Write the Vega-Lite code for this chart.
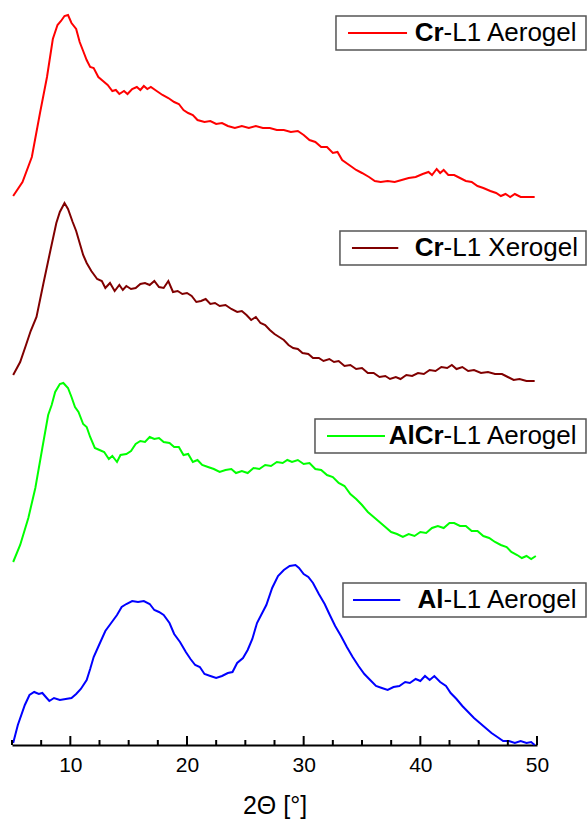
{
  "$schema": "https://vega.github.io/schema/vega-lite/v6.json",
  "width": 525,
  "height": 735,
  "autosize": {"type": "none"},
  "padding": {"left": 12, "top": 10, "right": 50, "bottom": 78},
  "background": "white",
  "config": {
    "view": {"stroke": null},
    "font": "Liberation Sans"
  },
  "datasets": {
    "majorTicks": [{"t": 10}, {"t": 20}, {"t": 30}, {"t": 40}, {"t": 50}],
    "minorTicks": [{"t": 5}, {"t": 7.5}, {"t": 12.5}, {"t": 15}, {"t": 17.5}, {"t": 22.5}, {"t": 25}, {"t": 27.5}, {"t": 32.5}, {"t": 35}, {"t": 37.5}, {"t": 42.5}, {"t": 45}, {"t": 47.5}],
    "curves": [
      {"s": "Cr-L1 Aerogel", "x": 5.1, "y": 549}, {"s": "Cr-L1 Aerogel", "x": 5.9, "y": 563}, {"s": "Cr-L1 Aerogel", "x": 6.7, "y": 588}, {"s": "Cr-L1 Aerogel", "x": 7.4, "y": 632}, {"s": "Cr-L1 Aerogel", "x": 8.0, "y": 668}, {"s": "Cr-L1 Aerogel", "x": 8.5, "y": 706}, {"s": "Cr-L1 Aerogel", "x": 8.9, "y": 720}, {"s": "Cr-L1 Aerogel", "x": 9.2, "y": 724}, {"s": "Cr-L1 Aerogel", "x": 9.5, "y": 729}, {"s": "Cr-L1 Aerogel", "x": 9.8, "y": 730}, {"s": "Cr-L1 Aerogel", "x": 10.1, "y": 722}, {"s": "Cr-L1 Aerogel", "x": 10.5, "y": 716}, {"s": "Cr-L1 Aerogel", "x": 10.8, "y": 703}, {"s": "Cr-L1 Aerogel", "x": 11.1, "y": 694}, {"s": "Cr-L1 Aerogel", "x": 11.4, "y": 685}, {"s": "Cr-L1 Aerogel", "x": 11.7, "y": 678}, {"s": "Cr-L1 Aerogel", "x": 12.0, "y": 677}, {"s": "Cr-L1 Aerogel", "x": 12.4, "y": 668}, {"s": "Cr-L1 Aerogel", "x": 12.8, "y": 664}, {"s": "Cr-L1 Aerogel", "x": 13.2, "y": 660}, {"s": "Cr-L1 Aerogel", "x": 13.6, "y": 654}, {"s": "Cr-L1 Aerogel", "x": 13.9, "y": 655}, {"s": "Cr-L1 Aerogel", "x": 14.2, "y": 651}, {"s": "Cr-L1 Aerogel", "x": 14.6, "y": 654}, {"s": "Cr-L1 Aerogel", "x": 14.9, "y": 651}, {"s": "Cr-L1 Aerogel", "x": 15.3, "y": 656}, {"s": "Cr-L1 Aerogel", "x": 15.7, "y": 658}, {"s": "Cr-L1 Aerogel", "x": 16.0, "y": 655}, {"s": "Cr-L1 Aerogel", "x": 16.3, "y": 659}, {"s": "Cr-L1 Aerogel", "x": 16.6, "y": 656}, {"s": "Cr-L1 Aerogel", "x": 16.9, "y": 658}, {"s": "Cr-L1 Aerogel", "x": 17.4, "y": 654}, {"s": "Cr-L1 Aerogel", "x": 17.9, "y": 650}, {"s": "Cr-L1 Aerogel", "x": 18.4, "y": 647}, {"s": "Cr-L1 Aerogel", "x": 18.9, "y": 643}, {"s": "Cr-L1 Aerogel", "x": 19.3, "y": 641}, {"s": "Cr-L1 Aerogel", "x": 19.7, "y": 635}, {"s": "Cr-L1 Aerogel", "x": 20.1, "y": 632}, {"s": "Cr-L1 Aerogel", "x": 20.5, "y": 630}, {"s": "Cr-L1 Aerogel", "x": 20.9, "y": 625}, {"s": "Cr-L1 Aerogel", "x": 21.5, "y": 623}, {"s": "Cr-L1 Aerogel", "x": 22.0, "y": 624}, {"s": "Cr-L1 Aerogel", "x": 22.5, "y": 621}, {"s": "Cr-L1 Aerogel", "x": 23.0, "y": 622}, {"s": "Cr-L1 Aerogel", "x": 23.5, "y": 619}, {"s": "Cr-L1 Aerogel", "x": 24.1, "y": 617}, {"s": "Cr-L1 Aerogel", "x": 24.7, "y": 619}, {"s": "Cr-L1 Aerogel", "x": 25.3, "y": 617}, {"s": "Cr-L1 Aerogel", "x": 25.9, "y": 619}, {"s": "Cr-L1 Aerogel", "x": 26.5, "y": 617}, {"s": "Cr-L1 Aerogel", "x": 27.1, "y": 617}, {"s": "Cr-L1 Aerogel", "x": 27.7, "y": 615}, {"s": "Cr-L1 Aerogel", "x": 28.3, "y": 615}, {"s": "Cr-L1 Aerogel", "x": 28.9, "y": 613}, {"s": "Cr-L1 Aerogel", "x": 29.5, "y": 614}, {"s": "Cr-L1 Aerogel", "x": 30.0, "y": 610}, {"s": "Cr-L1 Aerogel", "x": 30.5, "y": 605}, {"s": "Cr-L1 Aerogel", "x": 31.0, "y": 603}, {"s": "Cr-L1 Aerogel", "x": 31.5, "y": 598}, {"s": "Cr-L1 Aerogel", "x": 32.0, "y": 598}, {"s": "Cr-L1 Aerogel", "x": 32.5, "y": 592}, {"s": "Cr-L1 Aerogel", "x": 32.9, "y": 593}, {"s": "Cr-L1 Aerogel", "x": 33.3, "y": 585}, {"s": "Cr-L1 Aerogel", "x": 33.9, "y": 580}, {"s": "Cr-L1 Aerogel", "x": 34.5, "y": 575}, {"s": "Cr-L1 Aerogel", "x": 35.0, "y": 572}, {"s": "Cr-L1 Aerogel", "x": 35.6, "y": 568}, {"s": "Cr-L1 Aerogel", "x": 36.1, "y": 564}, {"s": "Cr-L1 Aerogel", "x": 36.6, "y": 563}, {"s": "Cr-L1 Aerogel", "x": 37.2, "y": 564}, {"s": "Cr-L1 Aerogel", "x": 37.8, "y": 563}, {"s": "Cr-L1 Aerogel", "x": 38.4, "y": 565}, {"s": "Cr-L1 Aerogel", "x": 39.0, "y": 567}, {"s": "Cr-L1 Aerogel", "x": 39.6, "y": 568}, {"s": "Cr-L1 Aerogel", "x": 40.2, "y": 571}, {"s": "Cr-L1 Aerogel", "x": 40.7, "y": 573}, {"s": "Cr-L1 Aerogel", "x": 41.0, "y": 570}, {"s": "Cr-L1 Aerogel", "x": 41.4, "y": 576}, {"s": "Cr-L1 Aerogel", "x": 41.7, "y": 572}, {"s": "Cr-L1 Aerogel", "x": 42.0, "y": 575}, {"s": "Cr-L1 Aerogel", "x": 42.4, "y": 570}, {"s": "Cr-L1 Aerogel", "x": 42.9, "y": 570}, {"s": "Cr-L1 Aerogel", "x": 43.4, "y": 567}, {"s": "Cr-L1 Aerogel", "x": 43.9, "y": 564}, {"s": "Cr-L1 Aerogel", "x": 44.4, "y": 563}, {"s": "Cr-L1 Aerogel", "x": 44.9, "y": 559}, {"s": "Cr-L1 Aerogel", "x": 45.4, "y": 557}, {"s": "Cr-L1 Aerogel", "x": 46.0, "y": 554}, {"s": "Cr-L1 Aerogel", "x": 46.5, "y": 552}, {"s": "Cr-L1 Aerogel", "x": 46.9, "y": 549}, {"s": "Cr-L1 Aerogel", "x": 47.3, "y": 551}, {"s": "Cr-L1 Aerogel", "x": 47.7, "y": 548}, {"s": "Cr-L1 Aerogel", "x": 48.1, "y": 551}, {"s": "Cr-L1 Aerogel", "x": 48.6, "y": 548}, {"s": "Cr-L1 Aerogel", "x": 49.2, "y": 548}, {"s": "Cr-L1 Aerogel", "x": 49.8, "y": 548},

      {"s": "Cr-L1 Xerogel", "x": 5.1, "y": 370}, {"s": "Cr-L1 Xerogel", "x": 5.7, "y": 383}, {"s": "Cr-L1 Xerogel", "x": 6.2, "y": 400}, {"s": "Cr-L1 Xerogel", "x": 6.6, "y": 414}, {"s": "Cr-L1 Xerogel", "x": 7.1, "y": 428}, {"s": "Cr-L1 Xerogel", "x": 7.7, "y": 462}, {"s": "Cr-L1 Xerogel", "x": 8.3, "y": 495}, {"s": "Cr-L1 Xerogel", "x": 8.8, "y": 522}, {"s": "Cr-L1 Xerogel", "x": 9.1, "y": 533}, {"s": "Cr-L1 Xerogel", "x": 9.5, "y": 542}, {"s": "Cr-L1 Xerogel", "x": 9.8, "y": 536}, {"s": "Cr-L1 Xerogel", "x": 10.2, "y": 523}, {"s": "Cr-L1 Xerogel", "x": 10.5, "y": 514}, {"s": "Cr-L1 Xerogel", "x": 10.8, "y": 502}, {"s": "Cr-L1 Xerogel", "x": 11.1, "y": 490}, {"s": "Cr-L1 Xerogel", "x": 11.4, "y": 482}, {"s": "Cr-L1 Xerogel", "x": 11.8, "y": 474}, {"s": "Cr-L1 Xerogel", "x": 12.3, "y": 466}, {"s": "Cr-L1 Xerogel", "x": 12.7, "y": 464}, {"s": "Cr-L1 Xerogel", "x": 13.0, "y": 457}, {"s": "Cr-L1 Xerogel", "x": 13.4, "y": 462}, {"s": "Cr-L1 Xerogel", "x": 13.8, "y": 454}, {"s": "Cr-L1 Xerogel", "x": 14.2, "y": 460}, {"s": "Cr-L1 Xerogel", "x": 14.5, "y": 455}, {"s": "Cr-L1 Xerogel", "x": 14.8, "y": 459}, {"s": "Cr-L1 Xerogel", "x": 15.2, "y": 456}, {"s": "Cr-L1 Xerogel", "x": 15.6, "y": 457}, {"s": "Cr-L1 Xerogel", "x": 16.0, "y": 461}, {"s": "Cr-L1 Xerogel", "x": 16.4, "y": 462}, {"s": "Cr-L1 Xerogel", "x": 16.8, "y": 460}, {"s": "Cr-L1 Xerogel", "x": 17.2, "y": 464}, {"s": "Cr-L1 Xerogel", "x": 17.6, "y": 458}, {"s": "Cr-L1 Xerogel", "x": 18.0, "y": 457}, {"s": "Cr-L1 Xerogel", "x": 18.4, "y": 464}, {"s": "Cr-L1 Xerogel", "x": 18.8, "y": 453}, {"s": "Cr-L1 Xerogel", "x": 19.2, "y": 454}, {"s": "Cr-L1 Xerogel", "x": 19.6, "y": 451}, {"s": "Cr-L1 Xerogel", "x": 20.0, "y": 452}, {"s": "Cr-L1 Xerogel", "x": 20.4, "y": 449}, {"s": "Cr-L1 Xerogel", "x": 20.8, "y": 443}, {"s": "Cr-L1 Xerogel", "x": 21.2, "y": 444}, {"s": "Cr-L1 Xerogel", "x": 21.6, "y": 446}, {"s": "Cr-L1 Xerogel", "x": 22.0, "y": 441}, {"s": "Cr-L1 Xerogel", "x": 22.4, "y": 442}, {"s": "Cr-L1 Xerogel", "x": 22.8, "y": 439}, {"s": "Cr-L1 Xerogel", "x": 23.3, "y": 440}, {"s": "Cr-L1 Xerogel", "x": 23.8, "y": 436}, {"s": "Cr-L1 Xerogel", "x": 24.3, "y": 433}, {"s": "Cr-L1 Xerogel", "x": 24.7, "y": 434}, {"s": "Cr-L1 Xerogel", "x": 25.1, "y": 430}, {"s": "Cr-L1 Xerogel", "x": 25.5, "y": 425}, {"s": "Cr-L1 Xerogel", "x": 25.9, "y": 428}, {"s": "Cr-L1 Xerogel", "x": 26.3, "y": 422}, {"s": "Cr-L1 Xerogel", "x": 26.7, "y": 420}, {"s": "Cr-L1 Xerogel", "x": 27.1, "y": 415}, {"s": "Cr-L1 Xerogel", "x": 27.5, "y": 411}, {"s": "Cr-L1 Xerogel", "x": 27.9, "y": 408}, {"s": "Cr-L1 Xerogel", "x": 28.3, "y": 405}, {"s": "Cr-L1 Xerogel", "x": 28.7, "y": 400}, {"s": "Cr-L1 Xerogel", "x": 29.1, "y": 397}, {"s": "Cr-L1 Xerogel", "x": 29.5, "y": 396}, {"s": "Cr-L1 Xerogel", "x": 29.9, "y": 392}, {"s": "Cr-L1 Xerogel", "x": 30.4, "y": 391}, {"s": "Cr-L1 Xerogel", "x": 30.8, "y": 387}, {"s": "Cr-L1 Xerogel", "x": 31.3, "y": 387}, {"s": "Cr-L1 Xerogel", "x": 31.7, "y": 384}, {"s": "Cr-L1 Xerogel", "x": 32.2, "y": 386}, {"s": "Cr-L1 Xerogel", "x": 32.6, "y": 383}, {"s": "Cr-L1 Xerogel", "x": 33.0, "y": 384}, {"s": "Cr-L1 Xerogel", "x": 33.5, "y": 379}, {"s": "Cr-L1 Xerogel", "x": 34.0, "y": 380}, {"s": "Cr-L1 Xerogel", "x": 34.5, "y": 376}, {"s": "Cr-L1 Xerogel", "x": 35.0, "y": 377}, {"s": "Cr-L1 Xerogel", "x": 35.5, "y": 372}, {"s": "Cr-L1 Xerogel", "x": 36.0, "y": 372}, {"s": "Cr-L1 Xerogel", "x": 36.5, "y": 368}, {"s": "Cr-L1 Xerogel", "x": 37.0, "y": 369}, {"s": "Cr-L1 Xerogel", "x": 37.4, "y": 366}, {"s": "Cr-L1 Xerogel", "x": 37.9, "y": 368}, {"s": "Cr-L1 Xerogel", "x": 38.3, "y": 366}, {"s": "Cr-L1 Xerogel", "x": 38.8, "y": 370}, {"s": "Cr-L1 Xerogel", "x": 39.3, "y": 369}, {"s": "Cr-L1 Xerogel", "x": 39.8, "y": 372}, {"s": "Cr-L1 Xerogel", "x": 40.3, "y": 371}, {"s": "Cr-L1 Xerogel", "x": 40.8, "y": 375}, {"s": "Cr-L1 Xerogel", "x": 41.3, "y": 374}, {"s": "Cr-L1 Xerogel", "x": 41.8, "y": 378}, {"s": "Cr-L1 Xerogel", "x": 42.3, "y": 377}, {"s": "Cr-L1 Xerogel", "x": 42.7, "y": 380}, {"s": "Cr-L1 Xerogel", "x": 43.1, "y": 376}, {"s": "Cr-L1 Xerogel", "x": 43.6, "y": 378}, {"s": "Cr-L1 Xerogel", "x": 44.1, "y": 374}, {"s": "Cr-L1 Xerogel", "x": 44.6, "y": 375}, {"s": "Cr-L1 Xerogel", "x": 45.2, "y": 372}, {"s": "Cr-L1 Xerogel", "x": 45.8, "y": 373}, {"s": "Cr-L1 Xerogel", "x": 46.4, "y": 371}, {"s": "Cr-L1 Xerogel", "x": 47.0, "y": 371}, {"s": "Cr-L1 Xerogel", "x": 47.5, "y": 368}, {"s": "Cr-L1 Xerogel", "x": 48.0, "y": 365}, {"s": "Cr-L1 Xerogel", "x": 48.5, "y": 366}, {"s": "Cr-L1 Xerogel", "x": 49.1, "y": 364}, {"s": "Cr-L1 Xerogel", "x": 49.8, "y": 364},

      {"s": "AlCr-L1 Aerogel", "x": 5.1, "y": 183}, {"s": "AlCr-L1 Aerogel", "x": 5.7, "y": 200}, {"s": "AlCr-L1 Aerogel", "x": 6.4, "y": 227}, {"s": "AlCr-L1 Aerogel", "x": 7.0, "y": 257}, {"s": "AlCr-L1 Aerogel", "x": 7.6, "y": 297}, {"s": "AlCr-L1 Aerogel", "x": 8.1, "y": 330}, {"s": "AlCr-L1 Aerogel", "x": 8.4, "y": 340}, {"s": "AlCr-L1 Aerogel", "x": 8.7, "y": 353}, {"s": "AlCr-L1 Aerogel", "x": 9.1, "y": 361}, {"s": "AlCr-L1 Aerogel", "x": 9.4, "y": 362}, {"s": "AlCr-L1 Aerogel", "x": 9.8, "y": 357}, {"s": "AlCr-L1 Aerogel", "x": 10.1, "y": 348}, {"s": "AlCr-L1 Aerogel", "x": 10.4, "y": 338}, {"s": "AlCr-L1 Aerogel", "x": 10.7, "y": 333}, {"s": "AlCr-L1 Aerogel", "x": 11.1, "y": 321}, {"s": "AlCr-L1 Aerogel", "x": 11.4, "y": 318}, {"s": "AlCr-L1 Aerogel", "x": 11.7, "y": 308}, {"s": "AlCr-L1 Aerogel", "x": 12.1, "y": 297}, {"s": "AlCr-L1 Aerogel", "x": 12.5, "y": 295}, {"s": "AlCr-L1 Aerogel", "x": 12.9, "y": 293}, {"s": "AlCr-L1 Aerogel", "x": 13.3, "y": 286}, {"s": "AlCr-L1 Aerogel", "x": 13.6, "y": 289}, {"s": "AlCr-L1 Aerogel", "x": 14.0, "y": 283}, {"s": "AlCr-L1 Aerogel", "x": 14.3, "y": 290}, {"s": "AlCr-L1 Aerogel", "x": 14.8, "y": 291}, {"s": "AlCr-L1 Aerogel", "x": 15.2, "y": 294}, {"s": "AlCr-L1 Aerogel", "x": 15.6, "y": 301}, {"s": "AlCr-L1 Aerogel", "x": 16.0, "y": 304}, {"s": "AlCr-L1 Aerogel", "x": 16.4, "y": 303}, {"s": "AlCr-L1 Aerogel", "x": 16.8, "y": 308}, {"s": "AlCr-L1 Aerogel", "x": 17.2, "y": 306}, {"s": "AlCr-L1 Aerogel", "x": 17.6, "y": 307}, {"s": "AlCr-L1 Aerogel", "x": 18.0, "y": 303}, {"s": "AlCr-L1 Aerogel", "x": 18.5, "y": 302}, {"s": "AlCr-L1 Aerogel", "x": 18.9, "y": 298}, {"s": "AlCr-L1 Aerogel", "x": 19.3, "y": 298}, {"s": "AlCr-L1 Aerogel", "x": 19.7, "y": 290}, {"s": "AlCr-L1 Aerogel", "x": 20.1, "y": 291}, {"s": "AlCr-L1 Aerogel", "x": 20.5, "y": 283}, {"s": "AlCr-L1 Aerogel", "x": 20.9, "y": 285}, {"s": "AlCr-L1 Aerogel", "x": 21.3, "y": 280}, {"s": "AlCr-L1 Aerogel", "x": 21.8, "y": 278}, {"s": "AlCr-L1 Aerogel", "x": 22.3, "y": 276}, {"s": "AlCr-L1 Aerogel", "x": 22.8, "y": 273}, {"s": "AlCr-L1 Aerogel", "x": 23.3, "y": 275}, {"s": "AlCr-L1 Aerogel", "x": 23.8, "y": 276}, {"s": "AlCr-L1 Aerogel", "x": 24.2, "y": 272}, {"s": "AlCr-L1 Aerogel", "x": 24.7, "y": 274}, {"s": "AlCr-L1 Aerogel", "x": 25.2, "y": 272}, {"s": "AlCr-L1 Aerogel", "x": 25.7, "y": 277}, {"s": "AlCr-L1 Aerogel", "x": 26.2, "y": 276}, {"s": "AlCr-L1 Aerogel", "x": 26.7, "y": 280}, {"s": "AlCr-L1 Aerogel", "x": 27.2, "y": 279}, {"s": "AlCr-L1 Aerogel", "x": 27.7, "y": 283}, {"s": "AlCr-L1 Aerogel", "x": 28.2, "y": 282}, {"s": "AlCr-L1 Aerogel", "x": 28.6, "y": 285}, {"s": "AlCr-L1 Aerogel", "x": 29.0, "y": 283}, {"s": "AlCr-L1 Aerogel", "x": 29.5, "y": 285}, {"s": "AlCr-L1 Aerogel", "x": 30.0, "y": 281}, {"s": "AlCr-L1 Aerogel", "x": 30.5, "y": 282}, {"s": "AlCr-L1 Aerogel", "x": 31.0, "y": 276}, {"s": "AlCr-L1 Aerogel", "x": 31.5, "y": 275}, {"s": "AlCr-L1 Aerogel", "x": 32.0, "y": 270}, {"s": "AlCr-L1 Aerogel", "x": 32.5, "y": 268}, {"s": "AlCr-L1 Aerogel", "x": 33.0, "y": 262}, {"s": "AlCr-L1 Aerogel", "x": 33.5, "y": 259}, {"s": "AlCr-L1 Aerogel", "x": 34.0, "y": 251}, {"s": "AlCr-L1 Aerogel", "x": 34.5, "y": 246}, {"s": "AlCr-L1 Aerogel", "x": 35.0, "y": 240}, {"s": "AlCr-L1 Aerogel", "x": 35.5, "y": 233}, {"s": "AlCr-L1 Aerogel", "x": 36.0, "y": 228}, {"s": "AlCr-L1 Aerogel", "x": 36.5, "y": 223}, {"s": "AlCr-L1 Aerogel", "x": 37.0, "y": 218}, {"s": "AlCr-L1 Aerogel", "x": 37.5, "y": 213}, {"s": "AlCr-L1 Aerogel", "x": 38.0, "y": 211}, {"s": "AlCr-L1 Aerogel", "x": 38.5, "y": 208}, {"s": "AlCr-L1 Aerogel", "x": 39.0, "y": 211}, {"s": "AlCr-L1 Aerogel", "x": 39.5, "y": 209}, {"s": "AlCr-L1 Aerogel", "x": 40.0, "y": 213}, {"s": "AlCr-L1 Aerogel", "x": 40.5, "y": 212}, {"s": "AlCr-L1 Aerogel", "x": 41.0, "y": 217}, {"s": "AlCr-L1 Aerogel", "x": 41.5, "y": 219}, {"s": "AlCr-L1 Aerogel", "x": 42.0, "y": 217}, {"s": "AlCr-L1 Aerogel", "x": 42.5, "y": 222}, {"s": "AlCr-L1 Aerogel", "x": 42.9, "y": 222}, {"s": "AlCr-L1 Aerogel", "x": 43.4, "y": 219}, {"s": "AlCr-L1 Aerogel", "x": 43.9, "y": 219}, {"s": "AlCr-L1 Aerogel", "x": 44.4, "y": 214}, {"s": "AlCr-L1 Aerogel", "x": 44.9, "y": 214}, {"s": "AlCr-L1 Aerogel", "x": 45.4, "y": 209}, {"s": "AlCr-L1 Aerogel", "x": 45.9, "y": 207}, {"s": "AlCr-L1 Aerogel", "x": 46.4, "y": 203}, {"s": "AlCr-L1 Aerogel", "x": 46.9, "y": 200}, {"s": "AlCr-L1 Aerogel", "x": 47.4, "y": 198}, {"s": "AlCr-L1 Aerogel", "x": 47.8, "y": 193}, {"s": "AlCr-L1 Aerogel", "x": 48.3, "y": 190}, {"s": "AlCr-L1 Aerogel", "x": 48.7, "y": 187}, {"s": "AlCr-L1 Aerogel", "x": 49.1, "y": 189}, {"s": "AlCr-L1 Aerogel", "x": 49.5, "y": 186}, {"s": "AlCr-L1 Aerogel", "x": 49.9, "y": 189},

      {"s": "Al-L1 Aerogel", "x": 5.1, "y": 2}, {"s": "Al-L1 Aerogel", "x": 5.5, "y": 20}, {"s": "Al-L1 Aerogel", "x": 6.1, "y": 40}, {"s": "Al-L1 Aerogel", "x": 6.5, "y": 50}, {"s": "Al-L1 Aerogel", "x": 6.9, "y": 53}, {"s": "Al-L1 Aerogel", "x": 7.3, "y": 51}, {"s": "Al-L1 Aerogel", "x": 7.6, "y": 52}, {"s": "Al-L1 Aerogel", "x": 7.9, "y": 48}, {"s": "Al-L1 Aerogel", "x": 8.2, "y": 44}, {"s": "Al-L1 Aerogel", "x": 8.6, "y": 47}, {"s": "Al-L1 Aerogel", "x": 9.1, "y": 45}, {"s": "Al-L1 Aerogel", "x": 9.6, "y": 46}, {"s": "Al-L1 Aerogel", "x": 10.1, "y": 47}, {"s": "Al-L1 Aerogel", "x": 10.5, "y": 51}, {"s": "Al-L1 Aerogel", "x": 10.9, "y": 56}, {"s": "Al-L1 Aerogel", "x": 11.4, "y": 65}, {"s": "Al-L1 Aerogel", "x": 11.7, "y": 76}, {"s": "Al-L1 Aerogel", "x": 12.0, "y": 88}, {"s": "Al-L1 Aerogel", "x": 12.5, "y": 101}, {"s": "Al-L1 Aerogel", "x": 13.0, "y": 114}, {"s": "Al-L1 Aerogel", "x": 13.5, "y": 122}, {"s": "Al-L1 Aerogel", "x": 14.0, "y": 130}, {"s": "Al-L1 Aerogel", "x": 14.4, "y": 138}, {"s": "Al-L1 Aerogel", "x": 14.8, "y": 141}, {"s": "Al-L1 Aerogel", "x": 15.3, "y": 144}, {"s": "Al-L1 Aerogel", "x": 15.8, "y": 143}, {"s": "Al-L1 Aerogel", "x": 16.3, "y": 144}, {"s": "Al-L1 Aerogel", "x": 16.8, "y": 141}, {"s": "Al-L1 Aerogel", "x": 17.2, "y": 135}, {"s": "Al-L1 Aerogel", "x": 17.6, "y": 133}, {"s": "Al-L1 Aerogel", "x": 18.0, "y": 130}, {"s": "Al-L1 Aerogel", "x": 18.5, "y": 122}, {"s": "Al-L1 Aerogel", "x": 18.9, "y": 111}, {"s": "Al-L1 Aerogel", "x": 19.4, "y": 103}, {"s": "Al-L1 Aerogel", "x": 19.9, "y": 93}, {"s": "Al-L1 Aerogel", "x": 20.3, "y": 86}, {"s": "Al-L1 Aerogel", "x": 20.7, "y": 80}, {"s": "Al-L1 Aerogel", "x": 21.1, "y": 78}, {"s": "Al-L1 Aerogel", "x": 21.5, "y": 71}, {"s": "Al-L1 Aerogel", "x": 22.0, "y": 69}, {"s": "Al-L1 Aerogel", "x": 22.5, "y": 67}, {"s": "Al-L1 Aerogel", "x": 23.0, "y": 69}, {"s": "Al-L1 Aerogel", "x": 23.5, "y": 72}, {"s": "Al-L1 Aerogel", "x": 23.9, "y": 73}, {"s": "Al-L1 Aerogel", "x": 24.3, "y": 82}, {"s": "Al-L1 Aerogel", "x": 24.8, "y": 87}, {"s": "Al-L1 Aerogel", "x": 25.2, "y": 95}, {"s": "Al-L1 Aerogel", "x": 25.6, "y": 106}, {"s": "Al-L1 Aerogel", "x": 26.0, "y": 122}, {"s": "Al-L1 Aerogel", "x": 26.4, "y": 131}, {"s": "Al-L1 Aerogel", "x": 26.8, "y": 140}, {"s": "Al-L1 Aerogel", "x": 27.3, "y": 157}, {"s": "Al-L1 Aerogel", "x": 27.8, "y": 169}, {"s": "Al-L1 Aerogel", "x": 28.3, "y": 175}, {"s": "Al-L1 Aerogel", "x": 28.8, "y": 179}, {"s": "Al-L1 Aerogel", "x": 29.3, "y": 180}, {"s": "Al-L1 Aerogel", "x": 29.6, "y": 177}, {"s": "Al-L1 Aerogel", "x": 30.0, "y": 171}, {"s": "Al-L1 Aerogel", "x": 30.4, "y": 168}, {"s": "Al-L1 Aerogel", "x": 30.8, "y": 162}, {"s": "Al-L1 Aerogel", "x": 31.3, "y": 151}, {"s": "Al-L1 Aerogel", "x": 31.8, "y": 141}, {"s": "Al-L1 Aerogel", "x": 32.2, "y": 131}, {"s": "Al-L1 Aerogel", "x": 32.7, "y": 119}, {"s": "Al-L1 Aerogel", "x": 33.2, "y": 109}, {"s": "Al-L1 Aerogel", "x": 33.7, "y": 98}, {"s": "Al-L1 Aerogel", "x": 34.2, "y": 88}, {"s": "Al-L1 Aerogel", "x": 34.7, "y": 79}, {"s": "Al-L1 Aerogel", "x": 35.2, "y": 71}, {"s": "Al-L1 Aerogel", "x": 35.7, "y": 65}, {"s": "Al-L1 Aerogel", "x": 36.2, "y": 59}, {"s": "Al-L1 Aerogel", "x": 36.7, "y": 57}, {"s": "Al-L1 Aerogel", "x": 37.2, "y": 55}, {"s": "Al-L1 Aerogel", "x": 37.7, "y": 58}, {"s": "Al-L1 Aerogel", "x": 38.2, "y": 59}, {"s": "Al-L1 Aerogel", "x": 38.7, "y": 63}, {"s": "Al-L1 Aerogel", "x": 39.1, "y": 62}, {"s": "Al-L1 Aerogel", "x": 39.6, "y": 66}, {"s": "Al-L1 Aerogel", "x": 40.0, "y": 64}, {"s": "Al-L1 Aerogel", "x": 40.4, "y": 69}, {"s": "Al-L1 Aerogel", "x": 40.8, "y": 65}, {"s": "Al-L1 Aerogel", "x": 41.2, "y": 69}, {"s": "Al-L1 Aerogel", "x": 41.7, "y": 63}, {"s": "Al-L1 Aerogel", "x": 42.2, "y": 59}, {"s": "Al-L1 Aerogel", "x": 42.6, "y": 52}, {"s": "Al-L1 Aerogel", "x": 43.1, "y": 46}, {"s": "Al-L1 Aerogel", "x": 43.6, "y": 39}, {"s": "Al-L1 Aerogel", "x": 44.1, "y": 33}, {"s": "Al-L1 Aerogel", "x": 44.6, "y": 27}, {"s": "Al-L1 Aerogel", "x": 45.1, "y": 22}, {"s": "Al-L1 Aerogel", "x": 45.6, "y": 17}, {"s": "Al-L1 Aerogel", "x": 46.1, "y": 12}, {"s": "Al-L1 Aerogel", "x": 46.6, "y": 8}, {"s": "Al-L1 Aerogel", "x": 47.1, "y": 4}, {"s": "Al-L1 Aerogel", "x": 47.6, "y": 4}, {"s": "Al-L1 Aerogel", "x": 48.1, "y": 2}, {"s": "Al-L1 Aerogel", "x": 48.6, "y": 4}, {"s": "Al-L1 Aerogel", "x": 49.1, "y": 2}, {"s": "Al-L1 Aerogel", "x": 49.5, "y": 3}, {"s": "Al-L1 Aerogel", "x": 49.8, "y": 0}
    ],
    "legend": [
      {"s": "Cr-L1 Aerogel", "bold": "Cr", "rest": "-L1 Aerogel", "bx1": 32.77, "bx2": 54.2, "by1": 729, "by2": 695, "lx1": 33.8, "lx2": 38.86, "ly": 712, "rx": 41.99},
      {"s": "Cr-L1 Xerogel", "bold": "Cr", "rest": "-L1 Xerogel", "bx1": 33.11, "bx2": 54.2, "by1": 514, "by2": 480, "lx1": 34.14, "lx2": 38.11, "ly": 497, "rx": 41.99},
      {"s": "AlCr-L1 Aerogel", "bold": "AlCr", "rest": "-L1 Aerogel", "bx1": 30.97, "bx2": 54.2, "by1": 326, "by2": 292, "lx1": 32.0, "lx2": 36.97, "ly": 309, "rx": 41.99},
      {"s": "Al-L1 Aerogel", "bold": "Al", "rest": "-L1 Aerogel", "bx1": 33.37, "bx2": 54.2, "by1": 162, "by2": 128, "lx1": 34.23, "lx2": 38.28, "ly": 145, "rx": 41.99}
    ]
  },
  "layer": [
    {
      "data": {"name": "curves"},
      "mark": {"type": "line", "strokeWidth": 2, "clip": false},
      "encoding": {
        "x": {
          "field": "x", "type": "quantitative",
          "scale": {"domain": [5, 50], "nice": false, "zero": false},
          "axis": {
            "orient": "bottom",
            "title": "2\u0398 [\u00b0]",
            "values": [10, 20, 30, 40, 50],
            "labelOverlap": false,
            "labelFlush": false,
            "grid": false,
            "ticks": false,
            "domainColor": "black",
            "domainWidth": 2,
            "labelPadding": 9,
            "labelFont": "Liberation Sans",
            "labelFontSize": 21,
            "labelColor": "black",
            "titleFont": "Liberation Sans",
            "titleFontSize": 25,
            "titleFontWeight": "normal",
            "titleColor": "black",
            "titlePadding": 18
          }
        },
        "y": {
          "field": "y", "type": "quantitative",
          "scale": {"domain": [0, 735], "nice": false, "zero": false},
          "axis": null
        },
        "color": {
          "field": "s", "type": "nominal",
          "scale": {
            "domain": ["Cr-L1 Aerogel", "Cr-L1 Xerogel", "AlCr-L1 Aerogel", "Al-L1 Aerogel"],
            "range": ["#ff0000", "#800000", "#00ff00", "#0000ff"]
          },
          "legend": null
        }
      }
    },
    {
      "data": {"name": "majorTicks"},
      "mark": {"type": "rule", "strokeWidth": 2, "color": "black", "clip": false},
      "encoding": {
        "x": {"field": "t", "type": "quantitative"},
        "y": {"datum": 0, "type": "quantitative"},
        "y2": {"datum": 9}
      }
    },
    {
      "data": {"name": "minorTicks"},
      "mark": {"type": "rule", "strokeWidth": 2, "color": "black", "clip": false},
      "encoding": {
        "x": {"field": "t", "type": "quantitative"},
        "y": {"datum": 0, "type": "quantitative"},
        "y2": {"datum": 5}
      }
    },
    {
      "data": {"name": "legend"},
      "mark": {"type": "rect", "fill": "white", "stroke": "#555555", "strokeWidth": 1.5, "clip": false},
      "encoding": {
        "x": {"field": "bx1", "type": "quantitative"},
        "x2": {"field": "bx2"},
        "y": {"field": "by1", "type": "quantitative"},
        "y2": {"field": "by2"}
      }
    },
    {
      "data": {"name": "legend"},
      "mark": {"type": "rule", "strokeWidth": 2, "clip": false},
      "encoding": {
        "x": {"field": "lx1", "type": "quantitative"},
        "x2": {"field": "lx2"},
        "y": {"field": "ly", "type": "quantitative"},
        "color": {"field": "s", "type": "nominal", "legend": null}
      }
    },
    {
      "data": {"name": "legend"},
      "mark": {"type": "text", "align": "right", "baseline": "middle", "font": "Liberation Sans", "fontSize": 26, "fontWeight": "bold", "color": "black", "clip": false},
      "encoding": {
        "x": {"field": "rx", "type": "quantitative"},
        "y": {"field": "ly", "type": "quantitative"},
        "text": {"field": "bold"}
      }
    },
    {
      "data": {"name": "legend"},
      "mark": {"type": "text", "align": "left", "baseline": "middle", "font": "Liberation Sans", "fontSize": 26, "color": "black", "clip": false},
      "encoding": {
        "x": {"field": "rx", "type": "quantitative"},
        "y": {"field": "ly", "type": "quantitative"},
        "text": {"field": "rest"}
      }
    }
  ]
}
